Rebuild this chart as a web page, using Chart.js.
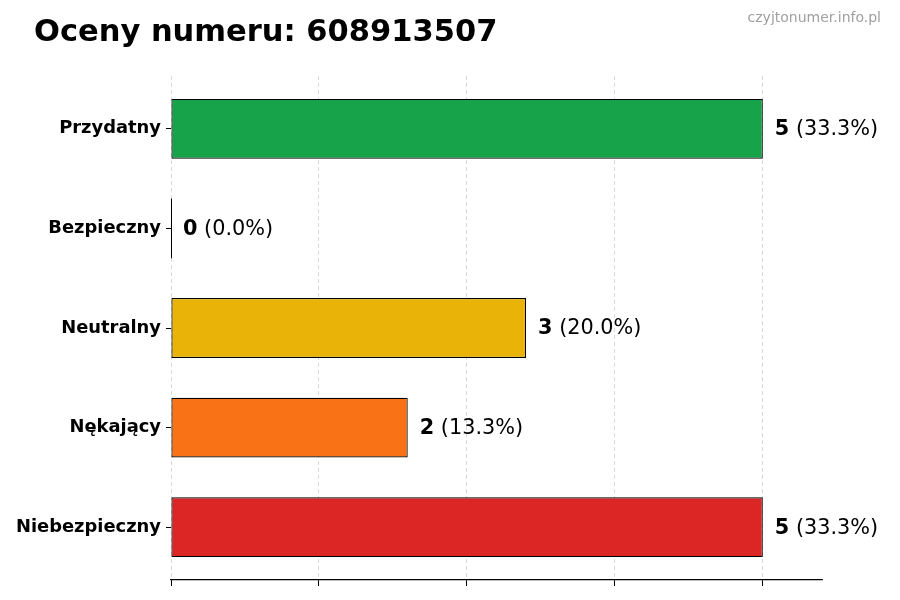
<!DOCTYPE html>
<html>
<head>
<meta charset="utf-8">
<script src="https://cdn.jsdelivr.net/npm/chart.js@4"></script>
<style>
  html, body { margin: 0; padding: 0; background: #fff; }
  #wrap { width: 900px; height: 600px; }
</style>
</head>
<body>
<div id="wrap"><canvas id="chart" width="900" height="600"></canvas></div>
<script>
// data
const categories = ["Przydatny", "Bezpieczny", "Neutralny", "Nękający", "Niebezpieczny"];
const counts = [5, 0, 3, 2, 5];
const percents = ["33.3", "0.0", "20.0", "13.3", "33.3"];
const barColors = ["#16a34a", "#2563eb", "#eab308", "#f97316", "#dc2626"];
const xTicks = [0, 1.25, 2.5, 3.75, 5];
const titleText = "Oceny numeru: 608913507";
const watermark = "czyjtonumer.info.pl";

const FONT = "'DejaVu Sans', sans-serif";

// title + watermark
const headerPlugin = {
  id: "header",
  afterDraw(chart) {
    const ctx = chart.ctx;
    ctx.save();
    ctx.fillStyle = "#000";
    ctx.font = "bold 30.5px " + FONT;
    ctx.textAlign = "left";
    ctx.textBaseline = "alphabetic";
    ctx.fillText(titleText, 34, 41);
    ctx.fillStyle = "#a0a0a0";
    ctx.font = "14px " + FONT;
    ctx.textAlign = "right";
    ctx.fillText(watermark, 881, 22);
    ctx.restore();
  }
};

// "5 (33.3%)" labels at bar ends, plus the edge line of empty bars
const valueLabels = {
  id: "valueLabels",
  afterDatasetsDraw(chart) {
    const ctx = chart.ctx;
    const meta = chart.getDatasetMeta(0);
    ctx.save();
    ctx.textBaseline = "middle";
    ctx.textAlign = "left";
    ctx.fillStyle = "#000";
    meta.data.forEach((bar, i) => {
      if (counts[i] === 0) {
        ctx.strokeStyle = "#000";
        ctx.lineWidth = 1;
        ctx.beginPath();
        ctx.moveTo(bar.base + 0.5, bar.y - bar.height / 2);
        ctx.lineTo(bar.base + 0.5, bar.y + bar.height / 2);
        ctx.stroke();
      }
      let x = bar.x + 12;
      const y = bar.y + 1;
      ctx.font = "bold 20.8px " + FONT;
      const num = String(counts[i]);
      ctx.fillText(num, x, y);
      x += ctx.measureText(num).width;
      ctx.font = "20.8px " + FONT;
      ctx.fillText(" (" + percents[i] + "%)", x, y);
    });
    ctx.restore();
  }
};

new Chart(document.getElementById("chart"), {
  type: "bar",
  data: {
    datasets: [{
      data: counts.map((v, i) => ({ x: v, y: i })),
      backgroundColor: barColors,
      borderColor: "#000",
      borderWidth: 1.2,
      borderSkipped: false,
      categoryPercentage: 1,
      barPercentage: 0.6,
    }],
  },
  options: {
    indexAxis: "y",
    responsive: false,
    animation: false,
    devicePixelRatio: 1,
    layout: { padding: { top: 76, right: 78, left: 0, bottom: 0 } },
    plugins: { legend: { display: false }, tooltip: { enabled: false } },
    scales: {
      x: {
        type: "linear",
        min: 0,
        max: 5.5,
        z: 1,
        afterBuildTicks: (s) => { s.ticks = xTicks.map((v) => ({ value: v })); },
        afterFit: (s) => { s.height = 20; },
        ticks: { display: false },
        border: { display: true, color: "#000", width: 1.2, dash: [4, 3] },
        grid: {
          color: "#cfcfcf",
          lineWidth: 0.8,
          drawTicks: true,
          tickLength: 6,
          tickColor: "#000",
          tickWidth: 1,
          tickBorderDash: [],
        },
      },
      y: {
        type: "linear",
        reverse: true,
        offset: false,
        min: -0.53,
        max: 4.53,
        afterBuildTicks: (s) => { s.ticks = categories.map((c, i) => ({ value: i })); },
        afterFit: (s) => { s.width = 171; },
        ticks: {
          callback: (v) => categories[v],
          color: "#000",
          font: { family: FONT, size: 17.9, weight: "bold" },
          padding: 5,
        },
        border: { display: false },
        grid: {
          offset: false,
          drawOnChartArea: false,
          drawTicks: true,
          tickLength: 5,
          tickColor: "#000",
        },
      },
    },
  },
  plugins: [headerPlugin, valueLabels],
});
</script>
</body>
</html>
